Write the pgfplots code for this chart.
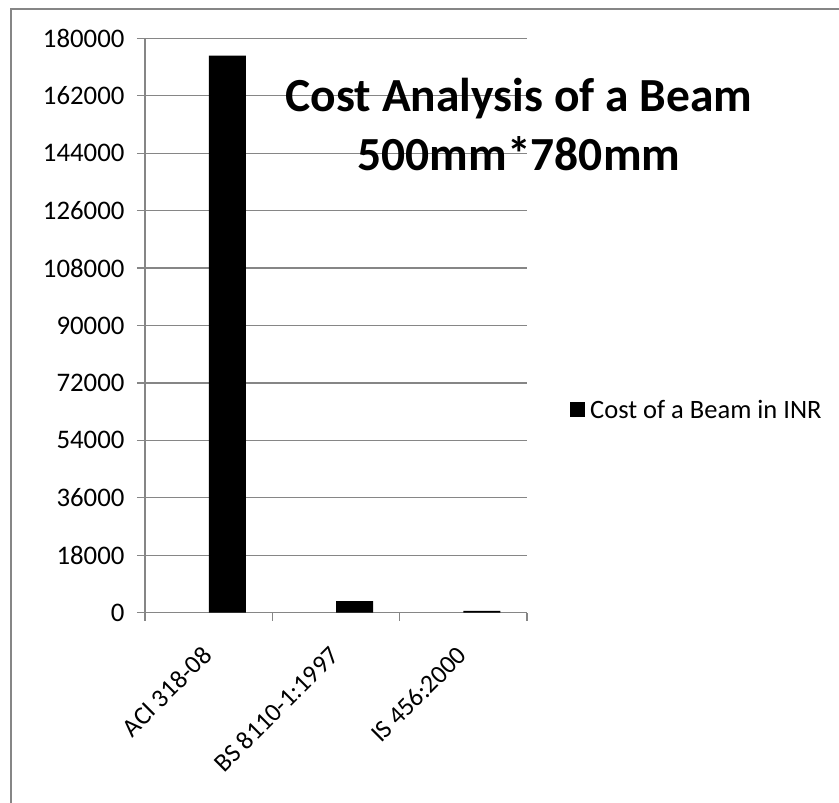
\documentclass[border=0pt]{standalone}
\usepackage{fontspec}
\setmainfont{Carlito}
\usepackage{pgfplots}
\pgfplotsset{compat=1.18}
\definecolor{gridgray}{RGB}{134,134,134}
\begin{document}
\begin{tikzpicture}
\begin{axis}[
  scale only axis,
  width=382pt, height=574.4pt,
  at={(145pt,190.3pt)}, anchor=south west,
  clip=false,
  xmin=0, xmax=3, ymin=0, ymax=180000,
  axis x line*=bottom, axis y line*=left,
  axis line style={gridgray, line width=1.3pt, -},
  ytick={0,18000,36000,54000,72000,90000,108000,126000,144000,162000,180000},
  yticklabels={0,18000,36000,54000,72000,90000,108000,126000,144000,162000,180000},
  scaled y ticks=false,
  ymajorgrids, grid style={gridgray, line width=1.3pt},
  xtick={0.5,1.5,2.5},
  xticklabels={ACI 318-08, BS 8110-1:1997, IS 456:2000},
  minor xtick={0,1,2,3},
  major tick length=8pt, minor tick length=8pt,
  tick align=outside,
  tick style={gridgray, line width=1.3pt},
  xtick style={draw=none},
  minor x tick style={draw=gridgray, line width=1.3pt},
  yticklabel style={font=\fontsize{26.8}{30}\selectfont, text=black, xshift=-9pt},
  xticklabel style={font=\fontsize{25.8}{30}\selectfont, text=black, xshift=1pt, yshift=-28pt, rotate=45, anchor=east},
  legend style={draw=none, fill=none, at={(1.1126,0.353)}, anchor=west, inner sep=0pt,
    font=\fontsize{26.5}{30}\selectfont, legend cell align=left},
  legend image code/.code={\fill[black] (0pt,-7.5pt) rectangle (15pt,7.5pt); \path (18pt,0pt);},
]
\addplot[ybar, bar width=37pt, fill=black, draw=none] coordinates {(0.646,174550) (1.646,3650) (2.646,550)};
\addlegendentry{Cost of a Beam in INR}
\node[anchor=base, font=\fontsize{47.5}{50}\selectfont\bfseries] at (rel axis cs:0.979,0.8734) {Cost Analysis of a Beam};
\node[anchor=base, font=\fontsize{47.5}{50}\selectfont\bfseries] at (rel axis cs:0.979,0.7707) {500mm*780mm};
\end{axis}
\draw[gridgray, line width=2pt] (11pt,0pt) -- (11pt,794pt) -- (839pt,794pt);
\pgfresetboundingbox
\path[use as bounding box] (0pt,0pt) rectangle (839pt,803pt);
\end{tikzpicture}
\end{document}
